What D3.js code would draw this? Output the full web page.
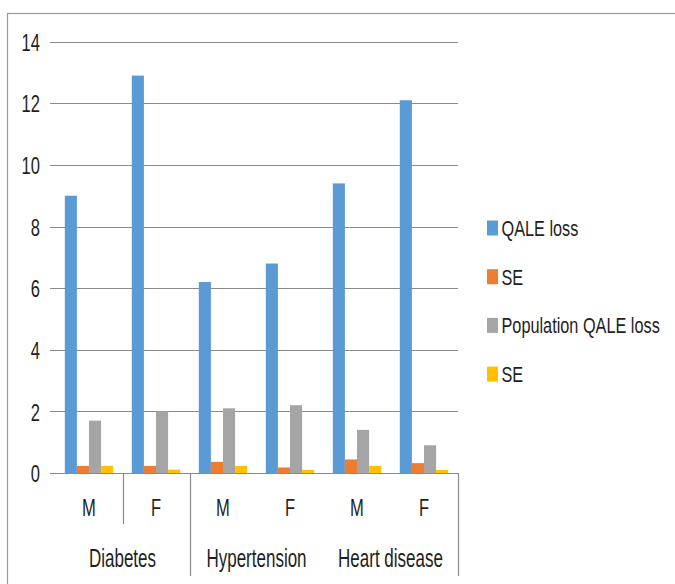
<!DOCTYPE html>
<html>
<head>
<meta charset="utf-8">
<script src="https://cdn.jsdelivr.net/npm/d3@7/dist/d3.min.js"></script>
<style>
  html, body { margin: 0; padding: 0; background: #fff; }
  svg { display: block; }
  text { font-family: "Liberation Sans", Arial, sans-serif; fill: #1e1e1e; }
</style>
</head>
<body>
<svg id="chart" width="675" height="584"></svg>
<script>
// Disease groups and sex sub-categories
const diseases = ["Diabetes", "Hypertension", "Heart disease"];
const sexes = ["M", "F"];

// Series (order: Diabetes M, Diabetes F, Hypertension M, Hypertension F, Heart disease M, Heart disease F)
const seriesNames = ["QALE loss", "SE", "Population QALE loss", "SE"];
const qaleLoss    = [9.0, 12.9, 6.2, 6.8, 9.4, 12.1];
const qaleSE      = [0.23, 0.23, 0.36, 0.18, 0.44, 0.32];
const popQaleLoss = [1.7, 2.0, 2.1, 2.2, 1.4, 0.9];
const popSE       = [0.23, 0.11, 0.23, 0.1, 0.23, 0.1];

const yTicks = [0, 2, 4, 6, 8, 10, 12, 14];
const colors = ["#5b9bd5", "#ed7d31", "#a5a5a5", "#ffc000"];

// condensed lettering: glyphs are narrowed horizontally
const narrow = 0.69;

const svg = d3.select("#chart");

// outer chart frame
svg.append("rect")
  .attr("x", 7.5).attr("y", 13.5)
  .attr("width", 700).attr("height", 600)
  .attr("fill", "none").attr("stroke", "#9a9a9a").attr("stroke-width", 1.2);

const categories = [];
diseases.forEach(d => sexes.forEach(s => categories.push(d + "|" + s)));
const allSeries = [qaleLoss, qaleSE, popQaleLoss, popSE];

const plot = { left: 55.5, right: 457.5, top: 41.7, bottom: 473 };

const x0 = d3.scaleBand().domain(categories).range([plot.left, plot.right]).paddingInner(0).paddingOuter(0);
const x1 = d3.scaleBand().domain(d3.range(seriesNames.length))
  .range([0, x0.bandwidth()]).paddingInner(0).paddingOuter(0.77);
const y = d3.scaleLinear().domain([0, 14]).range([plot.bottom, plot.top]);

// horizontal gridlines
svg.append("g").selectAll("line")
  .data(yTicks).join("line")
  .attr("x1", 50).attr("x2", plot.right + 0.5)
  .attr("y1", d => Math.round(y(d)) + 0.5).attr("y2", d => Math.round(y(d)) + 0.5)
  .attr("stroke", "#8a8a8a").attr("stroke-width", 1.2);

// y tick labels
const yAxis = d3.axisLeft(y).tickValues(yTicks).tickSize(0).tickPadding(0);
const yg = svg.append("g").attr("transform", "translate(40,0)").call(yAxis);
yg.select(".domain").remove();
yg.attr("font-family", null);
yg.selectAll("text")
  .attr("font-size", 24)
  .attr("dy", "0.36em")
  .attr("transform", `scale(${narrow},1)`)
  .attr("fill", "#1e1e1e");

// bars
const rows = categories.map((c, i) => ({ cat: c, vals: allSeries.map(s => s[i]) }));
const groups = svg.append("g").selectAll("g")
  .data(rows).join("g")
  .attr("transform", d => `translate(${x0(d.cat)},0)`);
groups.selectAll("rect")
  .data(d => d.vals.map((v, k) => ({ v, k })))
  .join("rect")
  .attr("x", d => x1(d.k))
  .attr("width", x1.bandwidth())
  .attr("y", d => y(d.v))
  .attr("height", d => y(0) - y(d.v))
  .attr("fill", d => colors[d.k]);

// sex labels under each category
svg.append("g").selectAll("text")
  .data(categories).join("text")
  .attr("transform", d => `translate(${x0(d) + x0.bandwidth() / 2},515.5) scale(${narrow},1)`)
  .attr("text-anchor", "middle")
  .attr("font-size", 24)
  .text(d => d.split("|")[1]);

// disease labels, centred between their M and F
svg.append("g").selectAll("text")
  .data(diseases).join("text")
  .attr("transform", d => `translate(${x0(d + "|M") + x0.bandwidth()},567) scale(0.68,1)`)
  .attr("text-anchor", "middle")
  .attr("font-size", 25)
  .text(d => d);

// category separator lines on the axis
const separators = [
  { after: "Diabetes|M", bottom: 524 },
  { after: "Diabetes|F", bottom: 576 },
  { after: "Heart disease|F", bottom: 576 }
];
svg.append("g").selectAll("line")
  .data(separators).join("line")
  .attr("x1", d => Math.round(x0(d.after) + x0.bandwidth()) + 0.5)
  .attr("x2", d => Math.round(x0(d.after) + x0.bandwidth()) + 0.5)
  .attr("y1", plot.bottom)
  .attr("y2", d => d.bottom)
  .attr("stroke", "#8a8a8a").attr("stroke-width", 1.2);

// legend
const legend = svg.append("g").attr("transform", "translate(487,228)")
  .selectAll("g").data(seriesNames).join("g")
  .attr("transform", (d, i) => `translate(0,${i * 48.7})`);
legend.append("rect")
  .attr("x", 0).attr("y", -7.5).attr("width", 11).attr("height", 15)
  .attr("fill", (d, i) => colors[i]);
legend.append("text")
  .attr("transform", "translate(14.5,0) scale(0.74,1)")
  .attr("dy", "0.36em")
  .attr("font-size", 22)
  .text(d => d);
</script>
</body>
</html>
